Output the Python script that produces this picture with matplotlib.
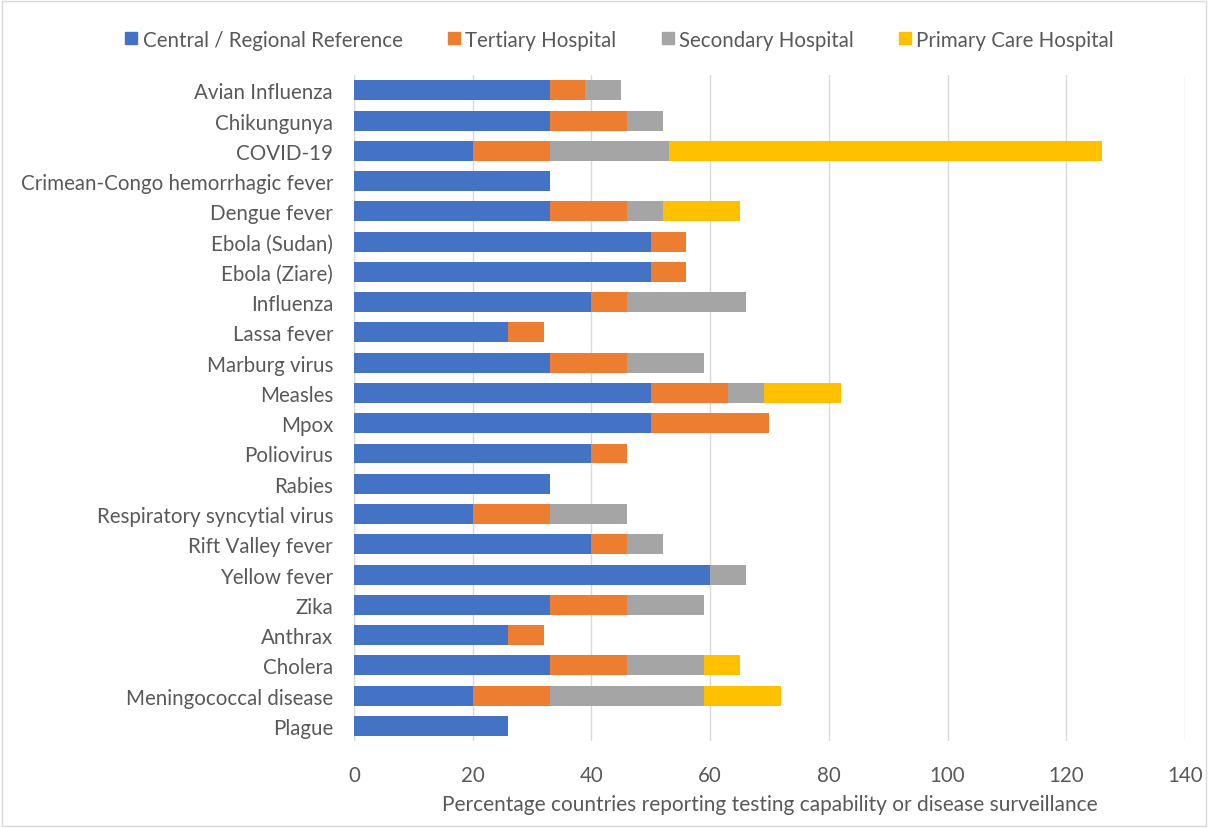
import matplotlib
matplotlib.use("Agg")
import matplotlib.pyplot as plt
from matplotlib.lines import Line2D
import numpy as np

diseases = ["Avian Influenza", "Chikungunya", "COVID-19", "Crimean-Congo hemorrhagic fever",
            "Dengue fever", "Ebola (Sudan)", "Ebola (Ziare)", "Influenza", "Lassa fever",
            "Marburg virus", "Measles", "Mpox", "Poliovirus", "Rabies",
            "Respiratory syncytial virus", "Rift Valley fever", "Yellow fever", "Zika",
            "Anthrax", "Cholera", "Meningococcal disease", "Plague"]
central =   [33, 33, 20, 33, 33, 50, 50, 40, 26, 33, 50, 50, 40, 33, 20, 40, 60, 33, 26, 33, 20, 26]
tertiary =  [6, 13, 13, 0, 13, 6, 6, 6, 6, 13, 13, 20, 6, 0, 13, 6, 0, 13, 6, 13, 13, 0]
secondary = [6, 6, 20, 0, 6, 0, 0, 20, 0, 13, 6, 0, 0, 0, 13, 6, 6, 13, 0, 13, 26, 0]
primary =   [0, 0, 73, 0, 13, 0, 0, 0, 0, 0, 13, 0, 0, 0, 0, 0, 0, 0, 0, 6, 13, 0]
series_names = ["Central / Regional Reference", "Tertiary Hospital", "Secondary Hospital", "Primary Care Hospital"]
xticks = [0, 20, 40, 60, 80, 100, 120, 140]

colors = ["#4472C4", "#ED7D31", "#A5A5A5", "#FFC000"]
plt.rcParams['font.family'] = ['Lato', 'DejaVu Sans']
txt = "#595959"

fig = plt.figure(figsize=(12.08, 8.29), dpi=100)
ax = fig.add_axes([0.293, 0.105, 0.688, 0.803])

y = np.arange(len(diseases))
left = np.zeros(len(diseases))
for vals, c, name in zip([central, tertiary, secondary, primary], colors, series_names):
    v = np.array(vals, dtype=float)
    ax.barh(y, v, left=left, height=0.66, color=c, label=name, zorder=3)
    left += v

ax.set_ylim(len(diseases) - 0.5, -0.5)
ax.set_xlim(0, 140)
ax.set_xticks(xticks)
ax.set_yticks(y)
ax.set_yticklabels(diseases)
ax.grid(axis='x', color="#D9D9D9", linewidth=1, zorder=0)
for s in ax.spines.values():
    s.set_visible(False)
ax.axvline(0, color="#D9D9D9", linewidth=1, zorder=1)
ax.tick_params(axis='both', length=0, labelsize=14.8, colors=txt)
ax.tick_params(axis='x', pad=17)
ax.tick_params(axis='y', pad=15)
ax.set_xlabel("Percentage countries reporting testing capability or disease surveillance",
              fontsize=15, color=txt, labelpad=7)

handles = [Line2D([0], [0], marker='s', linestyle='none', markersize=9, color=c) for c in colors]
fig.legend(handles, series_names, loc='center', bbox_to_anchor=(0.512, 0.951), ncol=4,
           frameon=False, fontsize=14.8, labelcolor=txt, handletextpad=0.15,
           columnspacing=2.1, handlelength=0.8)

fig.patches.append(plt.Rectangle((0.002, 0.002), 0.996, 0.996, transform=fig.transFigure,
                                 fill=False, edgecolor="#D9D9D9", linewidth=1))
fig.savefig("out.png", dpi=100)
